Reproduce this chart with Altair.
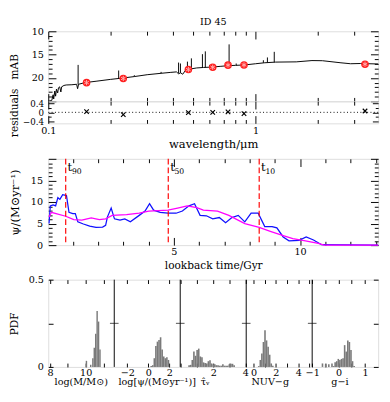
import altair as alt
import pandas as pd

FONT = "DejaVu Serif"

# ---------------- SED panel data ----------------
spec_wl = [0.100, 0.104, 0.1055, 0.1062, 0.1075, 0.1085, 0.1095, 0.1110, 0.1120, 0.1135,
           0.1150, 0.1160, 0.1190, 0.1220, 0.1300, 0.1370, 0.1385, 0.1400, 0.1500, 0.1700,
           0.2000, 0.2300, 0.2600, 0.3000, 0.3500, 0.3900, 0.4150, 0.4250, 0.4350, 0.4450,
           0.4600, 0.4800, 0.5200, 0.5600, 0.6200, 0.6800, 0.7450, 0.8000, 0.8900, 1.0000,
           1.1000, 1.2500, 1.5700, 1.8700, 2.1000, 2.5800, 2.8700, 3.2000, 3.9000]
spec_mag = [25.0, 24.8, 23.6, 24.5, 22.8, 23.9, 22.4, 23.2, 22.1, 21.9,
            23.0, 21.9, 21.6, 21.5, 21.45, 21.35, 22.3, 21.35, 21.0, 20.7,
            20.3, 20.0, 19.7, 19.3, 19.0, 18.8, 18.7, 19.1, 18.9, 19.2,
            18.3, 18.1, 17.85, 17.75, 17.65, 17.5, 17.35, 17.3, 17.2, 16.95,
            16.75, 16.6, 16.55, 16.27, 16.3, 16.75, 16.95, 16.9, 17.0]

eml_wl = [0.1393, 0.2185, 0.2600, 0.3500, 0.4250, 0.4340, 0.4690, 0.4900,
          0.5540, 0.5720, 0.6000, 0.7450, 0.8060, 1.0900, 1.1400, 1.2300]
eml_base = [21.4, 20.1, 19.7, 19.0, 19.0, 18.9, 18.3, 18.05,
            17.8, 17.75, 17.7, 17.35, 17.3, 16.75, 16.7, 16.65]
eml_top = [17.2, 18.4, 19.4, 18.7, 16.7, 16.9, 16.5, 15.8,
           14.9, 14.3, 17.2, 12.8, 16.9, 16.2, 15.6, 14.4]

phot_wl = [0.153, 0.230, 0.474, 0.621, 0.736, 0.879, 3.37]
phot_mag = [21.0, 20.1, 18.2, 17.7, 17.25, 17.2, 17.05]
phot_res = [0.03, -0.10, -0.01, 0.0, 0.02, -0.06, 0.06]

title_text = ["ID 45"]
wl_ticks = [0.1, 0.2, 0.3, 0.4, 0.5, 0.6, 0.7, 0.8, 0.9, 1, 2, 3]
mag_ticks = [10, 11, 12, 13, 14, 15, 16, 17, 18, 19, 20, 21, 22, 23, 24, 25]
res_ticks = [-0.4, -0.2, 0, 0.2, 0.4]

# ---------------- SFH panel data ----------------
sfh_t = [0.06, 0.11, 0.22, 0.32, 0.41, 0.49, 0.60, 0.75, 0.85, 1.00,
         1.10, 1.20, 1.42, 1.67, 1.92, 2.18, 2.30, 2.37, 2.52, 2.65,
         2.87, 3.06, 3.28, 3.63, 3.86, 4.04, 4.20, 4.46, 4.77, 5.09,
         5.34, 5.60, 5.82, 6.04, 6.29, 6.54, 6.80, 7.05, 7.30, 7.55,
         7.81, 8.06, 8.34, 8.60, 8.89, 9.08, 9.33, 9.56, 9.96, 10.24,
         10.53, 10.85, 13.09]
sfh_best = [5.0, 9.1, 9.3, 9.1, 11.0, 10.6, 11.7, 11.5, 7.6, 7.3,
            7.3, 5.4, 4.9, 4.4, 4.1, 4.2, 4.6, 6.5, 8.6, 6.1,
            5.8, 6.1, 5.4, 6.9, 7.9, 9.6, 8.1, 7.6, 7.4, 7.4,
            7.9, 9.1, 9.6, 6.9, 6.8, 6.1, 6.4, 5.2, 6.4, 6.9,
            5.4, 7.4, 7.4, 4.3, 4.3, 4.0, 1.9, 1.0, 1.1, 1.9,
            1.2, 0.1, 0.0]
med_t = [0.06, 0.15, 0.34, 0.72, 1.04, 1.36, 1.73, 2.05, 2.30, 2.56,
         3.13, 3.63, 4.01, 4.39, 4.77, 5.15, 5.53, 5.91, 6.17, 6.73,
         7.18, 7.81, 8.38, 8.82, 9.33, 9.71, 10.21, 10.72, 10.95, 13.09]
sfh_med = [6.5, 7.6, 7.3, 6.7, 5.9, 5.8, 6.3, 5.9, 6.1, 6.9,
           7.1, 7.4, 7.9, 8.0, 8.1, 8.6, 9.1, 8.7, 8.1, 7.9,
           6.9, 5.0, 4.1, 3.2, 2.2, 1.5, 1.0, 0.4, 0.0, 0.0]
t_marks = [0.72, 4.78, 8.38]
t_subs = ["90", "50", "10"]
t_ticks = [1, 2, 3, 4, 5, 6, 7, 8, 9, 10, 11, 12, 13]
sfr_ticks = [0, 1, 2, 3, 4, 5, 6, 7, 8, 9, 10, 11, 12, 13, 14, 15, 16, 17, 18, 19, 20]

# ---------------- PDF panels data ----------------
mass_left = [10.00, 10.24, 10.36, 10.44, 10.52, 10.60, 10.68, 10.76]
mass_pdf = [0.035, 0.012, 0.05, 0.11, 0.19, 0.32, 0.26, 0.10]
sfr_left = [0.20, 0.35, 0.50, 0.65, 0.80, 0.95, 1.10, 1.25, 1.40, 1.55, 1.70, 1.85]
sfr_pdf = [0.005, 0.01, 0.05, 0.12, 0.145, 0.155, 0.17, 0.10, 0.06, 0.05, 0.055, 0.04]
tau_left = [0.45, 0.55, 0.65, 0.75, 0.85, 0.95, 1.05, 1.15, 1.25, 1.35,
            1.45, 1.55, 1.65, 1.75, 1.85, 1.95, 2.05, 2.15, 2.25, 2.35,
            2.45, 2.55, 2.65, 2.75, 2.85, 2.95, 3.05, 3.15, 3.25]
tau_pdf = [0.01, 0.012, 0.04, 0.088, 0.064, 0.097, 0.105, 0.06, 0.055, 0.026,
           0.022, 0.02, 0.033, 0.038, 0.02, 0.015, 0.015, 0.01, 0.01, 0.007,
           0.007, 0.015, 0.007, 0.007, 0.007, 0.015, 0.018, 0.018, 0.01]
nuvg_left = [0.40, 0.54, 0.68, 0.82, 0.96, 1.10, 1.24, 1.38, 1.52, 1.66]
nuvg_pdf = [0.005, 0.04, 0.077, 0.143, 0.21, 0.152, 0.115, 0.07, 0.02, 0.007]
gi_left = [-0.64, -0.52, -0.40, -0.28, -0.22, -0.16, -0.10, -0.04, 0.02,
           0.08, 0.14, 0.20, 0.26, 0.32, 0.38, 0.44, 0.50, 0.56]
gi_pdf = [0.02, 0.015, 0.015, 0.02, 0.005, 0.027, 0.033, 0.046, 0.04,
          0.046, 0.05, 0.125, 0.088, 0.152, 0.143, 0.097, 0.033, 0.005]
bin_widths = [0.08, 0.15, 0.10, 0.14, 0.06]

pdf_ranges = [(7.9, 11.6), (-3.25, 3.05), (-0.05, 4.05), (-0.65, 5.25), (-1.0, 1.5)]
pdf_tick_vals = [[8, 9, 10, 11], [-2, 0, 2], [0, 1, 2, 3, 4], [0, 1, 2, 3, 4, 5], [-1, -0.5, 0, 0.5, 1]]
pdf_tick_labels = [["8", "", "10", ""], ["\u22122", "0", "2"], ["", "", "2", "", "4"],
                   ["0", "", "2", "", "4", ""], ["\u22121", "", "0", "", "1"]]
pdf_titles = ["log(M/M\u2299)", "log[\u03c8/(M\u2299yr\u207b\u00b9)]", "\u03c4\u0302\u1d65",
              "NUV\u2212g", "g\u2212i"]
pdf_title_at = [9.75, 0.85, 1.5, 1.5, 0.05]
pdf_y_ticks = [0, 0.25, 0.5]

# ---------------- layout ----------------
W = 344
H_SED, H_RES, H_SFH, H_PDF = 73, 23, 90, 91
TX = -35


def frame_axis(orient, values, major_test, major, minor, show_labels=False, label_expr=None,
               pad=0, title=None, title_x=0, title_y=0, lfs=10, tfs=11):
    kw = dict(orient=orient, values=values, domain=False, grid=False,
              ticks=True, tickColor="black", tickWidth=1,
              tickSize={"condition": {"test": major_test, "value": major}, "value": minor},
              labels=show_labels, labelFont=FONT, labelFontSize=lfs, labelColor="black",
              labelFlush=False, labelOverlap=False, labelPadding=pad)
    if label_expr is not None:
        kw["labelExpr"] = label_expr
    if title is None:
        kw["title"] = None
    else:
        kw.update(title=title, titleFont=FONT, titleFontSize=tfs, titleFontWeight="normal",
                  titleColor="black", titleX=title_x, titleY=title_y, titleAlign="center",
                  titleBaseline="middle")
        if orient in ("left", "right"):
            kw["titleAngle"] = 270
    return alt.Axis(**kw)


# ---------------- SED ----------------
x_sed = alt.Scale(type="log", domain=[0.1, 3.9], nice=False)
y_sed = alt.Scale(domain=[10, 25], reverse=True, nice=False, zero=False)
wl_major = "datum.value == 0.1 || datum.value == 1"
mag_major = "datum.value % 5 === 0"

spec_df = pd.DataFrame({"wl": spec_wl, "mag": spec_mag})
eml_df = pd.DataFrame({"wl": eml_wl, "base": eml_base, "top": eml_top})
phot_df = pd.DataFrame({"wl": phot_wl, "mag": phot_mag, "res": phot_res})

spec_line = alt.Chart(spec_df).mark_line(color="black", strokeWidth=1).encode(
    x=alt.X("wl:Q", scale=x_sed, axis=frame_axis("bottom", wl_ticks, wl_major, -8, -4)),
    y=alt.Y("mag:Q", scale=y_sed,
            axis=frame_axis("left", mag_ticks, mag_major, -8, -4, True,
                            "datum.value % 5 === 0 && datum.value < 25 ? datum.label : ''",
                            13, "mAB", TX, H_SED / 2)),
)
eml_rules = alt.Chart(eml_df).mark_rule(color="black", strokeWidth=1).encode(
    x=alt.X("wl:Q", scale=x_sed, axis=None),
    y=alt.Y("base:Q", scale=y_sed, axis=None),
    y2="top:Q",
)
phot_pts = alt.Chart(phot_df).mark_point(shape="circle", filled=True, color="#ff1f1f",
                                          size=62, opacity=1).encode(
    x=alt.X("wl:Q", scale=x_sed, axis=frame_axis("top", wl_ticks, wl_major, -8, -4)),
    y=alt.Y("mag:Q", scale=y_sed, axis=frame_axis("right", mag_ticks, mag_major, -8, -4)),
)
STAR = "M0,-1L0,1M-0.87,-0.5L0.87,0.5M-0.87,0.5L0.87,-0.5"
phot_star = alt.Chart(phot_df).mark_point(shape=STAR, filled=False, stroke="#ffb0b0",
                                           strokeWidth=1, size=30, opacity=1).encode(
    x=alt.X("wl:Q", scale=x_sed, axis=None),
    y=alt.Y("mag:Q", scale=y_sed, axis=None),
)
title_mark = alt.Chart(pd.DataFrame({"ttl": title_text})).mark_text(
    font=FONT, fontSize=10, align="center", baseline="alphabetic", color="black"
).encode(x=alt.value(W / 2), y=alt.value(-7), text="ttl:N")

sed = alt.layer(spec_line, eml_rules, phot_pts, phot_star, title_mark).resolve_axis(
    x="independent", y="independent"
).properties(width=W, height=H_SED)

# ---------------- residuals ----------------
y_res = alt.Scale(domain=[-0.5, 0.5], nice=False, zero=False)
res_major = "abs(datum.value) < 1e-9 || abs(abs(datum.value) - 0.4) < 1e-9"
CROSS = "M-1,-1L1,1M-1,1L1,-1"
zero_df = pd.DataFrame({"z": [0]})

zero_line = alt.Chart(zero_df).mark_rule(color="black", strokeWidth=1, strokeDash=[1, 2.5]).encode(
    y=alt.Y("z:Q", scale=y_res, axis=frame_axis("right", res_ticks, res_major, -6, -3)),
)
res_pts = alt.Chart(phot_df).mark_point(shape=CROSS, filled=False, stroke="black",
                                         strokeWidth=1.2, size=22, opacity=1).encode(
    x=alt.X("wl:Q", scale=x_sed,
            axis=frame_axis("bottom", wl_ticks, wl_major, -8, -4, True,
                            "datum.value == 0.1 ? '0.1' : (datum.value == 1 ? '1' : '')",
                            11, "wavelength/\u03bcm", W / 2, 21, tfs=12)),
    y=alt.Y("res:Q", scale=y_res,
            axis=frame_axis("left", res_ticks, res_major, -6, -3, True,
                            "abs(datum.value) < 1e-9 ? '0' : (datum.value > 0.3 ? '0.4' : (datum.value < -0.3 ? '\u22120.4' : ''))",
                            11, "residuals", TX, H_RES / 2, lfs=9)),
)
res_top = alt.Chart(phot_df).mark_point(opacity=0).encode(
    x=alt.X("wl:Q", scale=x_sed, axis=frame_axis("top", wl_ticks, wl_major, -8, -4)),
    y=alt.Y("res:Q", scale=y_res, axis=None),
)
resid = alt.layer(zero_line, res_pts, res_top).resolve_axis(
    x="independent", y="independent"
).properties(width=W, height=H_RES)

# ---------------- SFH ----------------
x_sfh = alt.Scale(domain=[0.03, 13.09], nice=False, zero=False)
y_sfh = alt.Scale(domain=[0, 20], nice=False)
five = "datum.value % 5 === 0"
best_df = pd.DataFrame({"t": sfh_t, "sfr": sfh_best})
med_df = pd.DataFrame({"t": med_t, "sfr": sfh_med})
tm_df = pd.DataFrame({"t": t_marks, "sub": t_subs, "lab": ["t"] * len(t_marks)})

best_line = alt.Chart(best_df).mark_line(color="#1010ff", strokeWidth=1.3).encode(
    x=alt.X("t:Q", scale=x_sfh,
            axis=frame_axis("bottom", t_ticks, five, -8, -4, True,
                            "datum.value % 5 === 0 ? datum.label : ''", 9.5,
                            "lookback time/Gyr", W / 2, 21)),
    y=alt.Y("sfr:Q", scale=y_sfh,
            axis=frame_axis("left", sfr_ticks, five, -8, -4, True,
                            "datum.value % 5 === 0 && datum.value < 20 ? datum.label : ''", 14,
                            "\u03c8/(M\u2299yr\u207b\u00b9)", TX, H_SFH / 2, tfs=12)),
)
med_line = alt.Chart(med_df).mark_line(color="#ff00ff", strokeWidth=1.3).encode(
    x=alt.X("t:Q", scale=x_sfh, axis=frame_axis("top", t_ticks, five, -8, -4)),
    y=alt.Y("sfr:Q", scale=y_sfh, axis=frame_axis("right", sfr_ticks, five, -8, -4)),
)
t_rules = alt.Chart(tm_df).mark_rule(color="#ff0000", strokeWidth=1.2, strokeDash=[6, 3]).encode(
    x=alt.X("t:Q", scale=x_sfh, axis=None),
)
t_text = alt.Chart(tm_df).mark_text(font=FONT, fontSize=12, align="left", baseline="alphabetic",
                                    dx=2, color="black").encode(
    x=alt.X("t:Q", scale=x_sfh, axis=None), y=alt.value(12.5), text="lab:N",
)
t_sub = alt.Chart(tm_df).mark_text(font=FONT, fontSize=8, align="left", baseline="alphabetic",
                                   dx=6.5, color="black").encode(
    x=alt.X("t:Q", scale=x_sfh, axis=None), y=alt.value(16), text="sub:N",
)
sfh = alt.layer(best_line, med_line, t_rules, t_text, t_sub).resolve_axis(
    x="independent", y="independent"
).properties(width=W, height=H_SFH)

# ---------------- PDFs ----------------
def to_u(i, v):
    lo, hi = pdf_ranges[i]
    return round(i + (v - lo) / (hi - lo), 6)


hist_sets = [(mass_left, mass_pdf), (sfr_left, sfr_pdf), (tau_left, tau_pdf),
             (nuvg_left, nuvg_pdf), (gi_left, gi_pdf)]
rows = []
for i, (lefts, pdfs) in enumerate(hist_sets):
    for left, p in zip(lefts, pdfs):
        rows.append({"u0": to_u(i, left), "u1": to_u(i, left + bin_widths[i]), "pdf": p})
bars_df = pd.DataFrame(rows)

u_ticks, u_labels = [], []
for i in range(5):
    for v, lab in zip(pdf_tick_vals[i], pdf_tick_labels[i]):
        u_ticks.append(to_u(i, v))
        u_labels.append(lab)
u_expr = " : ".join(f"abs(datum.value - {u}) < 1e-4 ? '{lab}'" for u, lab in zip(u_ticks, u_labels)) + " : ''"

bnd = [1, 2, 3, 4]
bnd_df = pd.DataFrame({"b": bnd, "p": [0.25] * len(bnd)})
ttl_df = pd.DataFrame({"u": [to_u(i, v) for i, v in enumerate(pdf_title_at)], "ttl": pdf_titles})

x_pdf = alt.Scale(domain=[0, 5], nice=False, zero=False)
y_pdf = alt.Scale(domain=[0, 0.5], nice=False)

bars = alt.Chart(bars_df).mark_rect(color="#7a7a7a").encode(
    x=alt.X("u0:Q", scale=x_pdf, axis=frame_axis("bottom", u_ticks, "true", -4, -4, True,
                                                   u_expr, 4.5)),
    x2="u1:Q",
    y=alt.Y("pdf:Q", scale=y_pdf,
            axis=frame_axis("left", pdf_y_ticks, "true", -5, -5, True,
                            "datum.value == 0.5 ? '0.5' : (datum.value == 0 ? '0' : '')", 10,
                            "PDF", TX, H_PDF / 2)),
    y2=alt.datum(0),
)
seps = alt.Chart(bnd_df).mark_rule(color="black", strokeWidth=1).encode(
    x=alt.X("b:Q", scale=x_pdf, axis=frame_axis("top", u_ticks, "true", -4, -4)),
)
mid_ticks = alt.Chart(bnd_df).mark_tick(orient="horizontal", size=9, thickness=1, color="black").encode(
    x=alt.X("b:Q", scale=x_pdf, axis=None),
    y=alt.Y("p:Q", scale=y_pdf, axis=frame_axis("right", pdf_y_ticks, "true", -5, -5)),
)
ttl = alt.Chart(ttl_df).mark_text(font=FONT, fontSize=10, baseline="middle", align="center",
                                  color="black").encode(
    x=alt.X("u:Q", scale=x_pdf, axis=None), y=alt.value(H_PDF + 16), text="ttl:N",
)
pdfs = alt.layer(bars, seps, mid_ticks, ttl).resolve_axis(
    x="independent", y="independent"
).properties(width=W, height=H_PDF)


def spacer(h):
    return alt.Chart(pd.DataFrame({"s": [0]})).mark_point(opacity=0).encode(
        x=alt.value(0), y=alt.value(0)
    ).properties(width=W, height=h, view=alt.ViewBackground(stroke="transparent"))


chart = alt.vconcat(sed, resid, spacer(37), sfh, spacer(36), pdfs, spacing=0, bounds="flush").properties(
    padding={"left": 0, "top": 0, "right": 0, "bottom": 0}
).configure_view(stroke="black", strokeWidth=1).configure(background="white")

chart.save("out.html", embed_options={"renderer": "svg", "actions": False})
